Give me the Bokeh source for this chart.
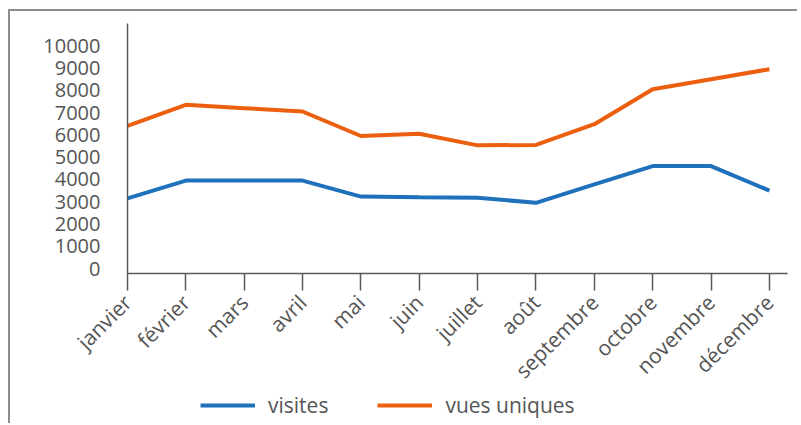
import math
from bokeh.plotting import figure
from bokeh.layouts import column
from bokeh.models import Legend, LegendItem, FixedTicker, ColumnDataSource
from bokeh.embed import file_html
from bokeh.resources import INLINE

months = ["janvier", "février", "mars", "avril", "mai", "juin", "juillet",
          "août", "septembre", "octobre", "novembre", "décembre"]
visites = [3150, 3950, 3950, 3950, 3230, 3200, 3180, 2950, 3780, 4600, 4600, 3500]
vues_uniques = [6400, 7350, 7200, 7050, 5950, 6050, 5530, 5550, 6480, 8050, 8500, 8950]
y_ticks = [0, 1000, 2000, 3000, 4000, 5000, 6000, 7000, 8000, 9000, 10000]

idx = list(range(len(months)))
src = ColumnDataSource(dict(x=idx, visites=visites, vues=vues_uniques))

FONT = "Open Sans"
TXT = "#555555"
BLUE = "#1f71bb"
ORANGE = "#eb5f0f"
BORDER = "2px solid #8c8c8c"

p = figure(width=789, height=385, output_backend="svg", toolbar_location=None,
           x_range=(0, 11.31), y_range=(-222, 11000),
           min_border_left=117, min_border_right=12, min_border_top=12,
           min_border_bottom=110)
p.styles = {"border-top": BORDER, "border-left": BORDER}
p.outline_line_color = None
p.grid.visible = False

p.line("x", "visites", source=src, line_color=BLUE, line_width=4)
p.line("x", "vues", source=src, line_color=ORANGE, line_width=4)

xa = p.xaxis[0]
xa.ticker = FixedTicker(ticks=idx)
xa.major_label_overrides = {i: m for i, m in enumerate(months)}
xa.major_label_orientation = math.pi / 4
xa.major_tick_out = 17
xa.major_tick_in = 0
xa.minor_tick_out = 0
xa.minor_tick_in = 0
xa.axis_line_color = "#595959"
xa.axis_line_width = 1.5
xa.major_tick_line_color = "#595959"
xa.major_tick_line_width = 1.5
xa.major_label_text_font = FONT
xa.major_label_text_font_size = "21px"
xa.major_label_text_color = TXT
xa.major_label_standoff = 8

ya = p.yaxis[0]
ya.ticker = FixedTicker(ticks=y_ticks)
ya.major_tick_out = 0
ya.major_tick_in = 0
ya.minor_tick_out = 0
ya.minor_tick_in = 0
ya.axis_line_color = "#595959"
ya.axis_line_width = 1.5
ya.major_label_text_font = FONT
ya.major_label_text_font_size = "20px"
ya.major_label_text_color = TXT
ya.major_label_standoff = 27

# legend strip below the chart (overlaps the empty bottom of the chart)
lf = figure(width=789, height=39, output_backend="svg", toolbar_location=None,
            x_range=(0, 1), y_range=(0, 1),
            min_border_left=0, min_border_right=0, min_border_top=0, min_border_bottom=0)
lf.margin = (-10, 0, 0, 0)
lf.styles = {"border-left": BORDER}
lf.axis.visible = False
lf.grid.visible = False
lf.outline_line_color = None
lr1 = lf.line(x=[5, 6], y=[5, 6], line_color=BLUE, line_width=4)
lr2 = lf.line(x=[5, 6], y=[5, 6], line_color=ORANGE, line_width=4)

legend = Legend(items=[LegendItem(label="visites", renderers=[lr1]),
                       LegendItem(label="vues uniques", renderers=[lr2])],
                orientation="horizontal", location=(73, 4),
                glyph_width=55, glyph_height=20, label_standoff=13, spacing=49,
                padding=0, margin=0, border_line_color=None,
                background_fill_alpha=0,
                label_text_font=FONT, label_text_font_size="21px",
                label_text_color=TXT)
lf.add_layout(legend, "center")

layout = column(p, lf, spacing=0)
layout.margin = (9, 0, 0, 8)

open("out.html", "w").write(file_html(layout, INLINE))
